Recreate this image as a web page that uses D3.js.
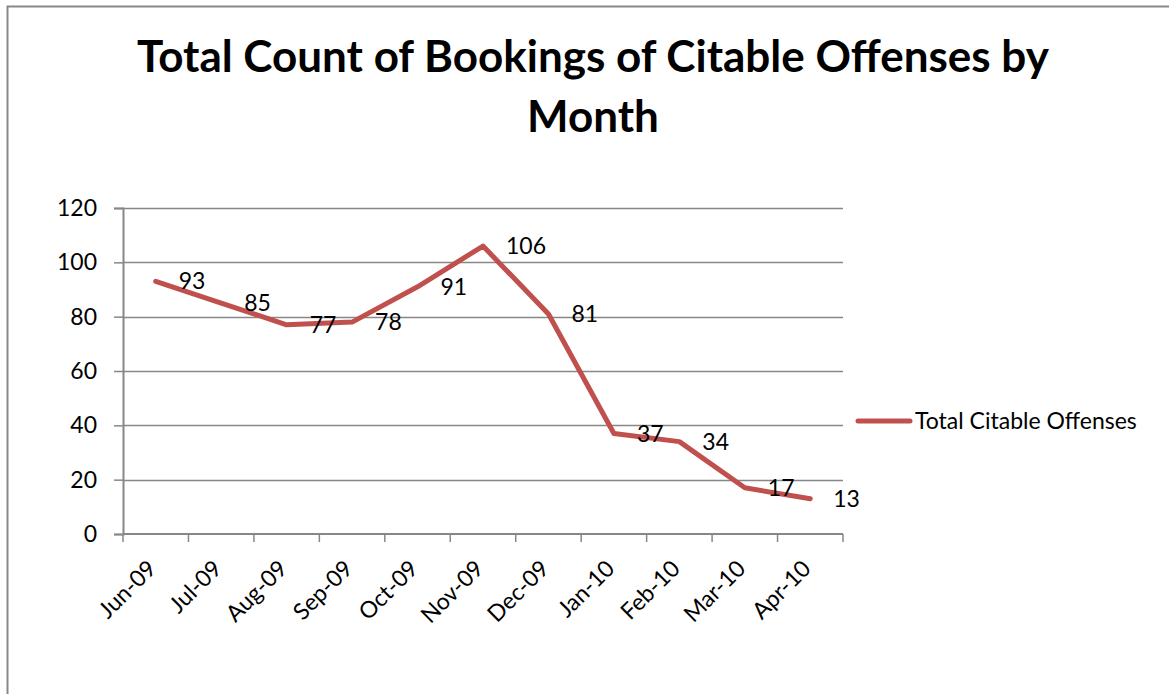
<!DOCTYPE html>
<html>
<head>
<meta charset="utf-8">
<script src="https://cdn.jsdelivr.net/npm/d3@7"></script>
<style>
  body { margin: 0; background: #fff; }
  text { font-family: Lato, "Open Sans", sans-serif; fill: #000; }
</style>
</head>
<body>
<div id="graph"></div>
<script>
// chart data
var months = ["Jun-09","Jul-09","Aug-09","Sep-09","Oct-09","Nov-09","Dec-09","Jan-10","Feb-10","Mar-10","Apr-10"];
var offenses = [93, 85, 77, 78, 91, 106, 81, 37, 34, 17, 13];
var yTicks = [0, 20, 40, 60, 80, 100, 120];
var seriesName = "Total Citable Offenses";
var titleLines = ["Total Count of Bookings of Citable Offenses by", "Month"];

var width = 1169, height = 694;
var lineColor = "#C0504D", gridColor = "#878787";
var labelSize = "23px";

var svg = d3.select('#graph')
			.append('svg')
			.attr("width", width)
			.attr("height", height);

// outer frame
svg.append("rect")
	.attr("x", 7.5).attr("y", 6.5)
	.attr("width", width).attr("height", height)
	.attr("fill", "none")
	.attr("stroke", "#888").attr("stroke-width", 2);

// title
var title = svg.append("g").attr("id", "title");
title.selectAll("text")
	.data(titleLines)
	.enter().append("text")
	.attr("x", 593)
	.attr("y", (d, i) => 72 + i * 60)
	.attr("text-anchor", "middle")
	.style("font-weight", "bold")
	.style("font-size", "44px")
	.text(d => d);

var x = d3.scaleBand().domain(months).range([123, 843]);
var y = d3.scaleLinear().domain([0, 120]).range([534, 208]);

// gridlines
svg.append("g").attr("id", "grid")
	.selectAll("line")
	.data(yTicks.filter(d => d > 0))
	.enter().append("line")
	.attr("x1", 123).attr("x2", 843)
	.attr("y1", d => Math.round(y(d)) + 0.5)
	.attr("y2", d => Math.round(y(d)) + 0.5)
	.attr("stroke", gridColor).attr("stroke-width", 1.5);

// y axis
var yAxis = d3.axisLeft(y).tickValues(yTicks).tickSize(9).tickPadding(17);
var yAxisPlot = svg.append("g").attr("class", "axis")
	.attr("transform", "translate(123,0)")
	.call(yAxis);
yAxisPlot.select(".domain").attr("stroke", gridColor).attr("stroke-width", 2);
yAxisPlot.selectAll(".tick line").attr("stroke", gridColor).attr("stroke-width", 1.5);
yAxisPlot.selectAll(".tick text").style("font-size", labelSize).style("font-family", "Lato, sans-serif");

// x axis (ticks at category boundaries)
var bounds = months.map(m => x(m)).concat([843]);
var xg = svg.append("g").attr("class", "axis");
xg.append("line")
	.attr("x1", 123).attr("x2", 843)
	.attr("y1", 534).attr("y2", 534)
	.attr("stroke", gridColor).attr("stroke-width", 2);
xg.selectAll("line.tk")
	.data(bounds)
	.enter().append("line").attr("class", "tk")
	.attr("x1", d => d).attr("x2", d => d)
	.attr("y1", 534).attr("y2", 542)
	.attr("stroke", gridColor).attr("stroke-width", 1.5);
xg.selectAll("text")
	.data(months)
	.enter().append("text")
	.attr("text-anchor", "end")
	.attr("transform", d => "translate(" + (x(d) + x.bandwidth() / 2 + 2) + ",570) rotate(-45)")
	.style("font-size", labelSize)
	.text(d => d);

// series line
var line = d3.line()
	.x((d, i) => x(months[i]) + x.bandwidth() / 2)
	.y(d => y(d));

svg.append("path")
	.datum(offenses)
	.attr("d", line)
	.attr("fill", "none")
	.attr("stroke", lineColor)
	.attr("stroke-width", 5)
	.attr("stroke-linejoin", "round")
	.attr("stroke-linecap", "round");

// data labels
svg.append("g").attr("id", "labels")
	.selectAll("text")
	.data(offenses)
	.enter().append("text")
	.attr("x", (d, i) => x(months[i]) + x.bandwidth() / 2 + 23)
	.attr("y", d => y(d))
	.attr("dy", "0.35em")
	.style("font-size", labelSize)
	.text(d => d);

// legend
var legend = svg.append("g").attr("id", "legend");
legend.append("line")
	.attr("x1", 858).attr("x2", 910)
	.attr("y1", 421).attr("y2", 421)
	.attr("stroke", lineColor).attr("stroke-width", 5)
	.attr("stroke-linecap", "round");
legend.append("text")
	.attr("x", 915).attr("y", 421).attr("dy", "0.35em")
	.style("font-size", labelSize)
	.text(seriesName);
</script>
</body>
</html>
